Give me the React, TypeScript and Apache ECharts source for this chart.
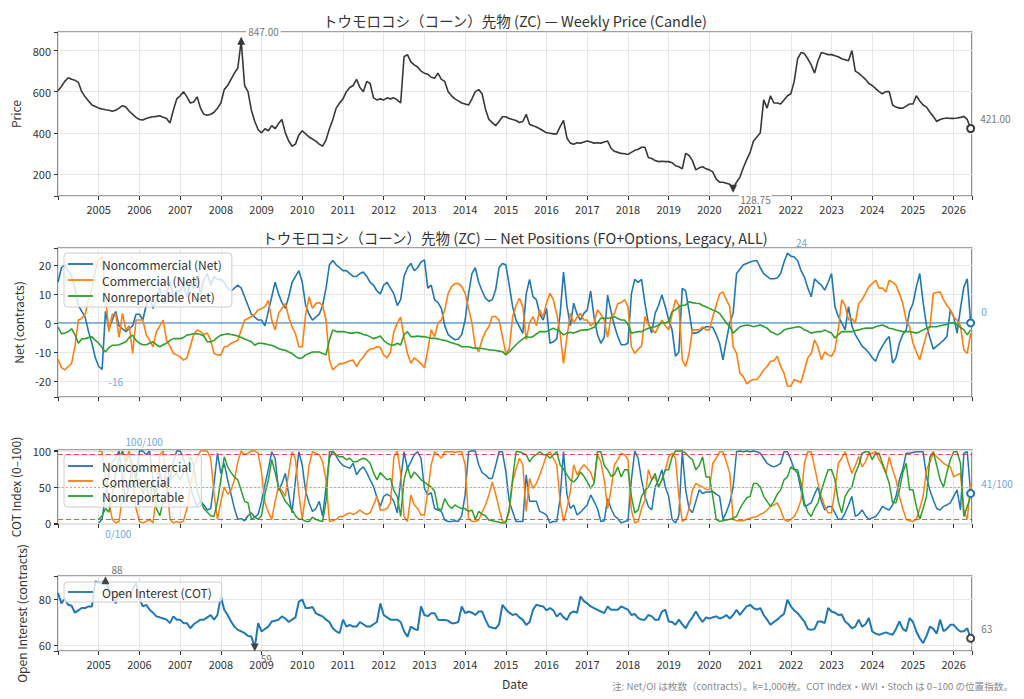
import React, { useEffect, useRef } from 'react';
import * as echarts from 'echarts';

// ---------- data (monthly samples) ----------
const START_YEAR = 2004; // price / net / OI start (Jan 2004)
const COT_START_YEAR = 2005; // COT index start (Jan 2005)
const X_MIN = 2004;
const X_MAX = 2026.45;

const priceClose = [
  605, 625, 650, 668, 660, 655, 645, 600, 575, 555, 535, 528, // 2004
  520, 516, 512, 510, 505, 510, 520, 532, 525, 505, 490, 475, // 2005
  465, 462, 470, 475, 478, 480, 483, 476, 470, 448, 510, 565, // 2006
  580, 600, 575, 545, 550, 575, 520, 490, 485, 490, 500, 520, // 2007
  545, 610, 630, 660, 690, 715, 847, 630, 600, 510, 455, 415, // 2008
  400, 420, 410, 435, 420, 445, 465, 400, 360, 335, 345, 390, // 2009
  410, 395, 380, 370, 360, 345, 335, 365, 420, 465, 520, 545, // 2010
  565, 600, 620, 630, 660, 620, 600, 650, 640, 570, 560, 565, // 2011
  560, 570, 565, 570, 560, 545, 770, 780, 745, 730, 720, 700, // 2012
  690, 685, 670, 665, 690, 660, 650, 600, 580, 565, 555, 545, // 2013
  540, 535, 565, 600, 610, 590, 515, 465, 450, 435, 455, 478, // 2014
  478, 470, 465, 460, 450, 455, 490, 440, 435, 428, 420, 410, // 2015
  400, 398, 395, 395, 430, 460, 375, 350, 345, 352, 350, 355, // 2016
  360, 355, 350, 352, 350, 355, 360, 325, 310, 305, 300, 298, // 2017
  295, 305, 315, 320, 330, 330, 280, 275, 265, 260, 262, 260, // 2018
  260, 255, 240, 235, 225, 300, 290, 265, 220, 230, 235, 225, // 2019
  220, 210, 175, 160, 160, 155, 150, 128.75, 160, 185, 230, 270, // 2020
  305, 360, 380, 400, 560, 520, 580, 545, 545, 540, 560, 580, // 2021
  590, 650, 760, 790, 785, 760, 730, 690, 750, 790, 785, 780, // 2022
  780, 775, 770, 760, 755, 750, 800, 700, 690, 675, 660, 640, // 2023
  630, 615, 600, 590, 600, 600, 535, 525, 520, 520, 530, 540, // 2024
  540, 580, 555, 535, 525, 500, 480, 455, 465, 470, 472, 470, // 2025
  470, 472, 475, 480, 465, 421, // 2026
];

const netNoncommercial = [
  14, 19, 20, 18, 16, 12, 6, 4, 2, -3, -7, -12, // 2004
  -15, -16, 4, -2, 1, 4, -1, -2, -3, -2, -1, 3, // 2005
  3, 1, 6, 9, 5, 8, 12, 7, 10, 14, 9, 11, // 2006
  11, 13, 9, 14, 12, 16, 10, 15, 17, 13, 16, 15, // 2007
  15, 14, 12, 11, 12, 13, 12, 9, 6, 3, 2, 1, // 2008
  1, -1, 4, 9, 14, 10, 7, 5, 9, 14, 16, 18, // 2009
  14, 6, 3, 1, 2, 3, 6, 12, 20, 21.5, 20, 19, // 2010
  18, 18, 17, 16, 16, 17, 17.5, 16, 14, 13, 11, 10, // 2011
  13, 14, 12, 10, 6, 8, 16, 19, 20.5, 18, 19, 21, // 2012
  21.7, 12, 13, 8, 7, 5, -1, -4, -5, -5.8, -5.5, -4, // 2013
  1, 10, 17, 19, 14, 11, 8.5, 7.5, 8, 11.4, 19, 20.5, // 2014
  20, 13, 5.6, 1, -1.3, -3.6, 10, 15, 9, 8, 3, 1, // 2015
  5, -7, -6.5, -5.5, 3, 17.5, 6, -1, 6.8, 3, 1, 3.3, // 2016
  4.5, 11, 2, -4, -7, -5, 9.6, 4, -1, -4.7, -7.5, -7.5, // 2017
  -7, 10, 15, 14, 15, 6.7, 0, -3.5, 3.3, 6, 9.6, 5.6, // 2018
  1, -2.4, -11.5, -10, 11.9, 11, 4, -3.5, -3.5, -3, -2, -1.3, // 2019
  -1.3, -1.5, -4, -7, -12.7, -6, 0, 3.3, 17, 18.5, 20, 20.5, // 2020
  21, 21.3, 21.5, 19, 17, 16, 15.2, 15.2, 15.5, 17, 21, 24, // 2021
  23, 22.7, 21.5, 18, 15.8, 12, 9, 15.2, 14, 13, 11.3, 14, // 2022
  17, 5.6, 2.2, 0, -2.4, 5.6, -1, -4, -6, -8, -9, -10.3, // 2023
  -12, -13.2, -10, -8, -6, -4.7, -13.8, -12, -7, -4, -2.4, 4, // 2024
  6.7, 12.4, 17, 7, -1, -5.2, -9, -8, -7, -6, -4.7, 4.5, // 2025
  2.2, -3.5, 5, 12.4, 15.2, 0, // 2026
];

const netCommercial = [
  -12.6, -15.3, -16.2, -15, -14, -8, 1, 1.5, 3, 8, 12, 18, // 2004
  22, 22.6, 9, -3, 3, 3, -5, 3.3, -2.4, -1, -10.5, 1, // 2005
  1, 1, -4, -6, -8.2, -3, -1, 1, -6, -8, -10.5, -11, // 2006
  -11.7, -12.8, -12, -8, -4, -2.4, -3, -4, -3.5, -6, -10.5, -11, // 2007
  -11, -8.2, -8, -7, -6.5, -6, -2.4, 1, 1.5, 2.2, 3, 4.5, // 2008
  5, 5.6, 7.8, 1, -2.4, 3.3, 5, 6.7, 2, -1.4, -3.7, -8.2, // 2009
  -8.2, 3, 9, 5, 6.7, 7, 6, 1, -12.8, -16.2, -15, -14, // 2010
  -14, -13.5, -13, -12.8, -15, -13, -11.7, -10, -9, -8.8, -8.2, -8.5, // 2011
  -11, -12, -10, -3, 0, 2, -5, -10.5, -13.9, -12, -13, -14, // 2012
  -15.5, -9.3, -2.4, -4.7, 0, 1, 4.5, 10.2, 12.5, 13.6, 13.6, 12.5, // 2013
  10.2, 5, 0, -8.2, -9.9, -5.8, -3, -1.3, 2.2, 2.2, 1, -4.7, // 2014
  -10.5, -9, 2.2, 6, 8.5, 5.6, -5.8, 0, 2.2, -1, 4.5, 2, // 2015
  7, 10.2, 8, 3, -3.6, -13.9, -5, 3.3, 0, 2, 3.3, 1, // 2016
  1, -1, 0, 4.5, 3, 1, -5, 2, 3.3, 6.7, 7, 8, // 2017
  5.6, -8.2, -10.5, -9, -8, 2.2, -0.5, -2, -3.5, -1.3, 1, -1, // 2018
  -2.4, 3, 8, 6, -12.7, -15, -10.5, -2.4, -2.4, -2.4, -1.3, -2.4, // 2019
  -2.4, 2.2, 6, 10, 10.7, 8, 5.6, -8.2, -10.5, -17.3, -18.5, -21, // 2020
  -20, -19.5, -19.5, -18, -16.2, -15, -13.2, -13, -11.5, -15, -17.3, -21.8, // 2021
  -21.8, -19.5, -20, -20.5, -16.2, -12, -10.5, -5.8, -8.2, -12.7, -10, -11, // 2022
  -11.5, -9.3, -2, 8, 6, 1, 1.5, 0, 6.7, 8, 10.2, 12.5, // 2023
  13.5, 14.7, 12, 12, 10.7, 14.7, 14, 13, 10, 6.7, 1, -1.3, // 2024
  -7, -10, -12.7, -8.2, -4, -1.3, 10.2, 10.5, 10.7, 8, 6, 4.5, // 2025
  2, 1, -1, -9.3, -10.5, -3.5, // 2026
];

const netNonreportable = [
  -1.4, -3.7, -3.5, -3, -2, -4, -7, -5.5, -5.4, -5, -4.8, -6, // 2004
  -7, -8.5, -10, -8.5, -7.7, -7.7, -7.5, -7, -6.5, -5, -4.2, -6, // 2005
  -7, -7.5, -7.5, -7, -6.5, -7.5, -8.2, -7.5, -7, -6, -5.4, -5.4, // 2006
  -5.4, -5, -4.2, -4, -3.7, -3.7, -4, -4.5, -6.5, -6.5, -6, -5, // 2007
  -4.2, -4, -3.7, -4, -4.2, -4.5, -5, -5.5, -6, -6.5, -7.7, -7, // 2008
  -7, -7.2, -7.5, -7.7, -8.2, -8.8, -9.2, -9.4, -10, -10.5, -11.5, -12.2, // 2009
  -12, -11, -10.5, -10, -10, -10, -10.5, -11, -6, -2.4, -3, -3, // 2010
  -3, -3.2, -3.5, -3.5, -3.2, -3.5, -4, -4.2, -4.8, -5.4, -5, -4.5, // 2011
  -6, -7, -7.5, -7.7, -7, -7.6, -4, -3, -4.7, -4.7, -4.5, -4.7, // 2012
  -4.7, -5, -5.3, -5.3, -5.5, -5.8, -6, -6.4, -6.8, -7.2, -7.5, -8.2, // 2013
  -8.2, -8.2, -8.5, -8.7, -8.7, -8.8, -9, -9.3, -9.3, -9.5, -9.7, -9.9, // 2014
  -11, -10, -8.7, -7.5, -6.4, -5.5, -4.7, -5, -4.7, -3.8, -3, -3, // 2015
  -3, -2.4, -1.8, -2.4, -3, -4.1, -3.5, -3.2, -3.5, -3, -2.5, -2.4, // 2016
  -2.4, -2, -1.5, 0, 1.6, 1.6, 1.6, 1.8, 2.2, 1.5, 1, 1, // 2017
  -0.5, -3.5, -3.2, -3, -3, -2.4, -1.8, -1.5, -1.3, -0.7, 0, 0, // 2018
  0.5, 3.9, 4.5, 5.6, 6, 6.2, 7.3, 7, 6.8, 6.7, 6, 5.6, // 2019
  5, 4.5, 4, 3.3, 1.6, 0, -1.3, -3.5, -2.4, -1.3, -1, -0.7, // 2020
  -0.9, -1.3, -1, -0.7, -1.2, -1.8, -3, -3.5, -4.1, -3.5, -2.4, -2, // 2021
  -1.8, -1.6, -1.3, -1.5, -2.4, -2.8, -3.5, -3.2, -3, -3, -2.4, -3, // 2022
  -3.5, -5.2, -4, -3, -3, -3, -3, -2.6, -2.4, -2, -1.8, -1.8, // 2023
  -1.8, -1.3, -1, -0.7, -1.2, -1.8, -2, -2.4, -2.7, -3, -3, -3, // 2024
  -3.2, -3.5, -3, -2.4, -1.8, -1.3, -1.3, -1.3, -1, -0.7, -0.5, 0, // 2025
  0, -0.7, -1.5, -2.4, -4.1, -2.4, // 2026
];

const cotNoncommercial = [
  0, 5, 40, 70, 85, 90, 100, 60, 30, 55, 80, 60, // 2005
  100, 100, 95, 100, 60, 40, 70, 50, 80, 60, 85, 100, // 2006
  100, 90, 70, 50, 35, 23, 30, 25, 18, 20, 55, 97, // 2007
  69, 83, 60, 40, 20, 5, 6, 3, 10, 14, 8, 12, // 2008
  30, 53, 75, 99, 90, 45, 55, 69, 40, 14, 60, 99, // 2009
  80, 44, 28, 16, 20, 30, 9, 50, 90, 100, 93, 85, // 2010
  80, 78, 76, 83, 67, 74, 78, 70, 60, 51, 35, 23, // 2011
  37, 40, 37, 30, 14, 60, 99, 76, 85, 95, 99, 90, // 2012
  48, 39, 42, 20, 18, 16, 4, 2, 2, 3, 2, 10, // 2013
  39, 99, 100, 100, 81, 70, 67, 62, 62, 80, 99, 99, // 2014
  71, 30, 16, 2, 2, 2, 67, 30, 30, 30, 16, 14, // 2015
  11, 0, 2, 2, 34, 99, 40, 20, 25, 11, 15, 20, // 2016
  25, 39, 30, 20, 2, 3, 34, 20, 10, 6, 0, 2, // 2017
  3, 60, 100, 90, 60, 37, 23, 18, 50, 60, 74, 50, // 2018
  37, 5, 0, 10, 99, 46, 20, 14, 30, 46, 41, 43, // 2019
  43, 44, 40, 37, 5, 15, 28, 50, 99, 100, 99, 100, // 2020
  99, 100, 99, 97, 90, 83, 80, 78, 80, 83, 99, 99, // 2021
  88, 75, 69, 46, 23, 25, 28, 40, 50, 30, 18, 23, // 2022
  23, 14, 5, 5, 14, 25, 37, 9, 12, 18, 10, 5, // 2023
  7, 9, 15, 23, 20, 18, 25, 37, 60, 75, 97, 97, // 2024
  98, 99, 99, 99, 64, 45, 32, 20, 18, 23, 25, 28, // 2025
  37, 46, 18, 97, 99, 41, // 2026
];

const cotCommercial = [
  100, 99, 60, 30, 5, 0, 2, 40, 90, 100, 60, 20, // 2005
  2, 0, 2, 5, 0, 40, 95, 100, 60, 5, 0, 2, // 2006
  0, 3, 20, 51, 75, 92, 100, 100, 100, 90, 40, 5, // 2007
  30, 50, 40, 45, 60, 85, 100, 95, 97, 100, 100, 97, // 2008
  70, 28, 15, 5, 30, 51, 45, 37, 70, 99, 88, 40, // 2009
  5, 40, 80, 99, 97, 95, 85, 60, 2, 3, 5, 9, // 2010
  9, 12, 14, 12, 14, 18, 14, 12, 14, 25, 37, 18, // 2011
  18, 20, 28, 92, 100, 69, 9, 2, 39, 25, 20, 11, // 2012
  11, 44, 81, 99, 95, 90, 99, 99, 99, 98, 99, 99, // 2013
  81, 6, 2, 2, 4, 15, 25, 39, 57, 40, 20, 2, // 2014
  2, 15, 57, 75, 90, 81, 16, 62, 48, 55, 67, 80, // 2015
  95, 99, 90, 81, 30, 2, 20, 44, 81, 67, 75, 81, // 2016
  76, 70, 57, 95, 85, 60, 20, 46, 81, 88, 97, 95, // 2017
  88, 18, 0, 2, 20, 32, 74, 60, 64, 50, 60, 74, // 2018
  92, 97, 90, 37, 2, 5, 20, 46, 55, 52, 50, 47, // 2019
  46, 83, 90, 99, 99, 85, 69, 5, 3, 3, 3, 5, // 2020
  7, 8, 9, 12, 14, 18, 23, 25, 28, 18, 5, 2, // 2021
  5, 9, 18, 32, 83, 99, 99, 78, 55, 37, 23, 14, // 2022
  14, 46, 83, 90, 99, 83, 69, 80, 92, 78, 85, 97, // 2023
  97, 99, 88, 80, 69, 92, 74, 60, 37, 20, 5, 3, // 2024
  2, 5, 20, 37, 74, 85, 97, 92, 88, 83, 80, 78, // 2025
  64, 67, 69, 18, 5, 55, // 2026
];

const cotNonreportable = [
  5, 10, 20, 15, 40, 70, 90, 100, 85, 95, 80, 60, // 2005
  60, 40, 55, 30, 60, 20, 10, 30, 40, 60, 65, 70, // 2006
  60, 70, 74, 92, 80, 46, 30, 20, 15, 10, 9, 30, // 2007
  60, 92, 78, 70, 64, 60, 45, 30, 28, 5, 8, 5, // 2008
  10, 40, 60, 88, 70, 50, 40, 30, 25, 18, 10, 5, // 2009
  5, 2, 2, 8, 5, 3, 2, 30, 99, 99, 95, 92, // 2010
  92, 88, 90, 85, 85, 88, 90, 88, 83, 70, 60, 70, // 2011
  65, 60, 62, 45, 37, 9, 60, 78, 62, 71, 66, 60, // 2012
  57, 53, 50, 44, 20, 18, 34, 25, 20, 25, 22, 20, // 2013
  20, 16, 18, 5, 16, 12, 10, 4, 3, 2, 1, 0, // 2014
  0, 20, 62, 99, 99, 97, 95, 85, 92, 95, 99, 95, // 2015
  95, 90, 95, 99, 81, 75, 67, 60, 57, 62, 71, 65, // 2016
  57, 48, 55, 99, 99, 80, 74, 65, 67, 78, 64, 74, // 2017
  74, 37, 14, 18, 37, 45, 50, 60, 69, 50, 60, 74, // 2018
  74, 92, 100, 100, 100, 97, 92, 88, 74, 80, 92, 64, // 2019
  64, 37, 5, 2, 3, 4, 5, 7, 9, 20, 28, 35, // 2020
  37, 55, 55, 50, 37, 30, 23, 30, 40, 46, 60, 64, // 2021
  78, 74, 74, 55, 28, 15, 9, 20, 28, 45, 60, 74, // 2022
  74, 60, 30, 14, 37, 45, 50, 69, 80, 97, 99, 99, // 2023
  88, 97, 97, 83, 70, 55, 28, 28, 46, 70, 83, 46, // 2024
  46, 23, 5, 20, 37, 92, 99, 80, 60, 50, 70, 88, // 2025
  99, 99, 83, 9, 23, 37, // 2026
];

const openInterest = [
  82.4, 78, 80, 77.4, 77, 74, 75, 76, 76, 76.7, 76.7, 87.5, // 2004
  86.8, 87, 88, 84, 82.4, 78, 83, 82, 81.7, 81, 84, 86.8, // 2005
  80, 76.7, 77.4, 75.3, 74, 72.4, 72, 71.5, 71, 69.5, 72.4, 71, // 2006
  71, 69.5, 69.5, 67.3, 69, 70, 71, 71, 72, 73, 71, 73, // 2007
  81, 75.3, 73, 70.2, 68, 66.6, 66, 65.2, 64, 63.7, 59, 69.5, // 2008
  65.9, 67, 68, 70.2, 70.5, 71, 72.4, 71.5, 70, 71, 72, 78.8, // 2009
  79.6, 76, 76, 76.5, 73.8, 73, 72.4, 71, 70, 67.3, 66, 65.2, // 2010
  71, 68, 68.8, 68, 68, 70, 69, 68, 68, 69, 70, 78, // 2011
  73, 72, 71, 71, 71, 70, 66, 63.6, 68, 67, 66.5, 76.7, // 2012
  73, 72.5, 73.8, 73.8, 71, 70.9, 70.9, 70.5, 69.5, 69.5, 70, 76.7, // 2013
  73.8, 74.5, 74, 73, 74.5, 74.5, 71, 68, 67.5, 67.2, 69, 77.4, // 2014
  75.5, 74, 73, 73.5, 72, 70.9, 68.7, 70, 75.2, 77.4, 77, 76.7, // 2015
  75, 76, 75, 72.3, 73.8, 72, 70.9, 73.8, 74.5, 74, 81, 79, // 2016
  78, 76.7, 76, 75.2, 74.5, 73.8, 76.7, 75.3, 75.3, 75.3, 76.7, 76, // 2017
  75.3, 73, 73.5, 71.7, 71, 71, 73, 72.4, 71, 71, 74.5, 75.3, // 2018
  70.2, 70, 68.8, 71, 69, 67.3, 70, 72, 74.5, 72, 70, 72, // 2019
  71.5, 72, 72.4, 71.5, 72, 73, 71.5, 73, 75.3, 73, 75, 76.7, // 2020
  77.4, 76, 75.3, 76, 73, 71, 68.8, 70, 71, 72.4, 73.5, 79.6, // 2021
  76.7, 75, 73.8, 72, 70.2, 67, 66.6, 67, 70.2, 70.2, 69.5, 76, // 2022
  74.5, 74, 73, 73.2, 70.2, 69, 67.3, 68, 71, 68, 69, 71.7, // 2023
  65.9, 65, 64.5, 65, 65.5, 65, 64.5, 67, 70.2, 67, 66, 71.7, // 2024
  70, 65.9, 63, 60.9, 64, 68, 67, 65, 71, 66, 67, 68.8, // 2025
  68.8, 67, 65.9, 66, 67.3, 63, // 2026
];

const priceTicks = [200, 400, 600, 800];
const netTicks = [-20, -10, 0, 10, 20];
const cotTicks = [0, 50, 100];
const oiTicks = [60, 80];
const zeroLevel = [0];

// ---------- styling ----------
const FONT = '"Noto Sans CJK JP", "Noto Sans", sans-serif';
const C_BLUE = '#1f77b4';
const C_ORANGE = '#ff7f0e';
const C_GREEN = '#2ca02c';
const C_PRICE = '#383838';
const C_NOTE_GRAY = '#777777';
const C_NOTE_BLUE = '#6fa8dc';
const C_ZERO = '#4f93d2';
const GRID_LINE = '#e6e6e6';
const LEGEND_LINE = 'path://M0,0 L30,0 L30,2.2 L0,2.2 Z';

const grids = [
  { left: 58, right: 52, top: 32, height: 164 },
  { left: 58, right: 52, top: 248, height: 149 },
  { left: 58, right: 52, top: 450, height: 74 },
  { left: 58, right: 52, top: 576, height: 75 },
];

const yRanges = [
  { min: 93, max: 890, split: 4, ticks: priceTicks, name: 'Price', gap: 36 },
  { min: -25.5, max: 25.8, split: 5, ticks: netTicks, name: 'Net (contracts)', gap: 34 },
  { min: -1.5, max: 101.5, split: 2, ticks: cotTicks, name: 'COT Index (0–100)', gap: 34 },
  { min: 57.5, max: 89.8, split: 2, ticks: oiTicks, name: 'Open Interest (contracts)', gap: 30 },
];

const TRI_DOWN = 'path://M0,0 L10,0 L5,9 Z';

function pairs(start: number, arr: (number | null)[]) {
  return arr.map((v, i) => [Number((start + i / 12).toFixed(4)), v]);
}

function extremes(arr: number[]) {
  let iMax = 0;
  let iMin = 0;
  arr.forEach((v, i) => {
    if (v > arr[iMax]) iMax = i;
    if (v < arr[iMin]) iMin = i;
  });
  return { iMax, iMin };
}

function note(text: string, color: string, distance: number, dy: number, extra: any = {}) {
  return {
    show: true,
    formatter: text,
    position: 'right',
    distance,
    offset: [0, dy],
    color,
    fontSize: 10,
    fontFamily: FONT,
    ...extra,
  };
}

function buildOption() {
  const priceData = pairs(START_YEAR, priceClose);
  const ncData = pairs(START_YEAR, netNoncommercial);
  const cData = pairs(START_YEAR, netCommercial);
  const nrData = pairs(START_YEAR, netNonreportable);
  const cotNcData = pairs(COT_START_YEAR, cotNoncommercial);
  const cotCData = pairs(COT_START_YEAR, cotCommercial);
  const cotNrData = pairs(COT_START_YEAR, cotNonreportable);
  const oiData = pairs(START_YEAR, openInterest);

  const pe = extremes(priceClose);
  const ne = extremes(netNoncommercial);
  const ce = extremes(cotNoncommercial);
  const oe = extremes(openInterest);
  const lastOf = (d: any[]) => d[d.length - 1];

  const lineSeries = (name: string, data: any[], idx: number, color: string, width: number, extra: any = {}) => ({
    type: 'line',
    name,
    data,
    xAxisIndex: idx,
    yAxisIndex: idx,
    symbol: 'none',
    showSymbol: false,
    lineStyle: { color, width },
    itemStyle: { color },
    z: 2,
    ...extra,
  });

  const invisible = { symbol: 'circle', symbolSize: 1, itemStyle: { color: 'rgba(0,0,0,0)' } };

  const xAxes = grids.map((_, i) => ({
    type: 'value',
    gridIndex: i,
    min: X_MIN,
    max: X_MAX,
    interval: 1,
    axisLine: { show: false, onZero: false },
    axisTick: { show: true, length: 4, lineStyle: { color: '#333', width: 1 } },
    axisLabel: {
      show: i === 0 || i === 3,
      color: '#333',
      fontSize: 11,
      margin: 7,
      fontFamily: FONT,
      formatter: (v: number) => (Number.isInteger(v) && v !== X_MIN ? String(v) : ''),
    },
    splitLine: { show: true, lineStyle: { color: GRID_LINE, width: 1 } },
    name: i === 3 ? 'Date' : '',
    nameLocation: 'middle',
    nameGap: 26,
    nameTextStyle: { color: '#333', fontSize: 12, fontFamily: FONT },
  }));

  const yAxes = yRanges.map((r, i) => ({
    type: 'value',
    gridIndex: i,
    min: r.min,
    max: r.max,
    splitNumber: r.split,
    axisLine: { show: false, onZero: false },
    axisTick: { show: true, length: 4, lineStyle: { color: '#333', width: 1 } },
    axisLabel: {
      color: '#333',
      fontSize: 11,
      margin: 7,
      fontFamily: FONT,
      formatter: (v: number) => (r.ticks.indexOf(v) >= 0 ? String(v) : ''),
    },
    splitLine: { show: true, lineStyle: { color: GRID_LINE, width: 1 } },
    name: r.name,
    nameLocation: 'middle',
    nameGap: r.gap,
    nameTextStyle: { color: '#333', fontSize: 12, fontFamily: FONT },
  }));

  const legendBase = {
    orient: 'vertical',
    left: 64,
    icon: LEGEND_LINE,
    itemWidth: 25,
    itemHeight: 14,
    backgroundColor: 'rgba(255,255,255,0.8)',
    borderColor: '#cccccc',
    borderWidth: 1,
    borderRadius: 3,
    textStyle: { color: '#333', fontSize: 12, fontFamily: FONT, padding: [0, 0, 0, 4] },
    inactiveColor: '#ccc',
  };

  const series: any[] = [
    lineSeries('Price', priceData, 0, C_PRICE, 1.6, {
      markPoint: {
        z: 6,
        data: [
          {
            coord: priceData[pe.iMax],
            symbol: 'triangle',
            symbolSize: 8,
            itemStyle: { color: C_PRICE },
            label: note(priceClose[pe.iMax].toFixed(2), C_NOTE_GRAY, 1, -9, {
              backgroundColor: '#ffffff',
              padding: [0, 2],
            }),
          },
          {
            coord: priceData[pe.iMin],
            symbol: TRI_DOWN,
            symbolSize: 8,
            itemStyle: { color: C_PRICE },
            label: note(priceClose[pe.iMin].toFixed(2), C_NOTE_GRAY, 2, 11, {
              backgroundColor: '#ffffff',
              padding: [0, 1],
            }),
          },
          {
            coord: lastOf(priceData),
            symbol: 'emptyCircle',
            symbolSize: 7,
            itemStyle: { color: C_PRICE, borderColor: C_PRICE, borderWidth: 1.2 },
            label: note(lastOf(priceClose).toFixed(2), C_NOTE_GRAY, 5, -10),
          },
        ],
      },
    }),
    // zero reference line (axhline at 0), spanning the full x range
    {
      type: 'line',
      name: 'zero',
      xAxisIndex: 1,
      yAxisIndex: 1,
      data: [[X_MIN, zeroLevel[0]], [X_MAX, zeroLevel[0]]],
      symbol: 'none',
      showSymbol: false,
      silent: true,
      lineStyle: { color: C_ZERO, width: 1.2 },
      itemStyle: { color: C_ZERO },
      z: 1,
    },
    lineSeries('Noncommercial (Net)', ncData, 1, C_BLUE, 1.6, {
      markPoint: {
        z: 6,
        data: [
          { coord: ncData[ne.iMax], ...invisible, label: note(String(Math.round(netNoncommercial[ne.iMax])), C_NOTE_BLUE, 8, -11) },
          { coord: ncData[ne.iMin], ...invisible, label: note(String(Math.round(netNoncommercial[ne.iMin])), C_NOTE_BLUE, 6, 12) },
          {
            coord: lastOf(ncData),
            symbol: 'emptyCircle',
            symbolSize: 7,
            itemStyle: { color: C_BLUE, borderColor: C_BLUE, borderWidth: 1.2 },
            label: note(String(Math.round(lastOf(netNoncommercial))), C_NOTE_BLUE, 6, -11),
          },
        ],
      },
    }),
    lineSeries('Commercial (Net)', cData, 1, C_ORANGE, 1.6),
    lineSeries('Nonreportable (Net)', nrData, 1, C_GREEN, 1.6),
    lineSeries('Noncommercial', cotNcData, 2, C_BLUE, 1.5, {
      markLine: {
        silent: true,
        symbol: ['none', 'none'],
        label: { show: false },
        data: [
          { yAxis: 95, lineStyle: { color: 'rgba(214,39,40,0.75)', width: 1, type: [5, 3] } },
          { yAxis: 5, lineStyle: { color: 'rgba(214,39,40,0.75)', width: 1, type: [5, 3] } },
          { yAxis: 50, lineStyle: { color: '#b0b0b0', width: 1, type: [2, 2] } },
        ],
      },
      markPoint: {
        z: 6,
        data: [
          { coord: cotNcData[ce.iMax], ...invisible, label: note(`${Math.round(cotNoncommercial[ce.iMax])}/100`, C_NOTE_BLUE, 6, -10) },
          { coord: cotNcData[ce.iMin], ...invisible, label: note(`${Math.round(cotNoncommercial[ce.iMin])}/100`, C_NOTE_BLUE, 6, 11) },
          {
            coord: lastOf(cotNcData),
            symbol: 'emptyCircle',
            symbolSize: 7,
            itemStyle: { color: C_BLUE, borderColor: C_BLUE, borderWidth: 1.2 },
            label: note(`${Math.round(lastOf(cotNoncommercial))}/100`, C_NOTE_BLUE, 6, -10),
          },
        ],
      },
    }),
    lineSeries('Commercial', cotCData, 2, C_ORANGE, 1.5),
    lineSeries('Nonreportable', cotNrData, 2, C_GREEN, 1.5),
    lineSeries('Open Interest (COT)', oiData, 3, C_BLUE, 2, {
      markPoint: {
        z: 6,
        data: [
          {
            coord: oiData[oe.iMax],
            symbol: 'triangle',
            symbolSize: 8,
            itemStyle: { color: '#444' },
            label: note(String(Math.round(openInterest[oe.iMax])), C_NOTE_GRAY, 2, -11),
          },
          {
            coord: oiData[oe.iMin],
            symbol: TRI_DOWN,
            symbolSize: 8,
            itemStyle: { color: '#444' },
            label: note(String(Math.round(openInterest[oe.iMin])), C_NOTE_GRAY, 2, 11),
          },
          {
            coord: lastOf(oiData),
            symbol: 'emptyCircle',
            symbolSize: 7,
            itemStyle: { color: '#444', borderColor: '#444', borderWidth: 1.2 },
            label: note(String(Math.round(lastOf(openInterest))), C_NOTE_GRAY, 6, -10),
          },
        ],
      },
    }),
  ];

  return {
    animation: false,
    backgroundColor: '#ffffff',
    textStyle: { fontFamily: FONT },
    grid: grids.map((g) => ({ ...g, show: true, borderColor: '#444', borderWidth: 1.2, backgroundColor: 'rgba(0,0,0,0)' })),
    xAxis: xAxes,
    yAxis: yAxes,
    legend: [
      {
        ...legendBase,
        top: 253,
        itemGap: 4,
        padding: [5, 10, 5, 4],
        data: ['Noncommercial (Net)', 'Commercial (Net)', 'Nonreportable (Net)'],
      },
      {
        ...legendBase,
        top: 455,
        itemGap: 3,
        padding: [5, 10, 5, 4],
        data: ['Noncommercial', 'Commercial', 'Nonreportable'],
      },
      {
        ...legendBase,
        top: 582,
        itemGap: 3,
        padding: [4, 10, 4, 4],
        data: ['Open Interest (COT)'],
      },
    ],
    series,
    graphic: [
      {
        type: 'text',
        x: 515,
        y: 20,
        style: {
          text: 'トウモロコシ（コーン）先物 (ZC) — Weekly Price (Candle)',
          fill: '#333',
          fontSize: 14.5,
          fontFamily: FONT,
          textAlign: 'center',
          textVerticalAlign: 'middle',
        },
      },
      {
        type: 'text',
        x: 515,
        y: 237,
        style: {
          text: 'トウモロコシ（コーン）先物 (ZC) — Net Positions (FO+Options, Legacy, ALL)',
          fill: '#333',
          fontSize: 14.5,
          fontFamily: FONT,
          textAlign: 'center',
          textVerticalAlign: 'middle',
        },
      },
      {
        type: 'text',
        x: 1013,
        y: 686,
        style: {
          text: '注: Net/OI は枚数（contracts）。k=1,000枚。COT Index・WVI・Stoch は 0–100 の位置指数。',
          fill: '#888',
          fontSize: 9.6,
          fontFamily: FONT,
          textAlign: 'right',
          textVerticalAlign: 'middle',
        },
      },
    ],
  };
}

export default function App() {
  const ref = useRef<HTMLDivElement>(null);
  useEffect(() => {
    if (!ref.current) return;
    const chart = echarts.init(ref.current, undefined, { renderer: 'svg' });
    chart.setOption(buildOption() as any);
    return () => chart.dispose();
  }, []);
  return (
    <div
      ref={ref}
      style={{ position: 'fixed', left: 0, top: 0, width: 1024, height: 699, background: '#fff' }}
    />
  );
}
